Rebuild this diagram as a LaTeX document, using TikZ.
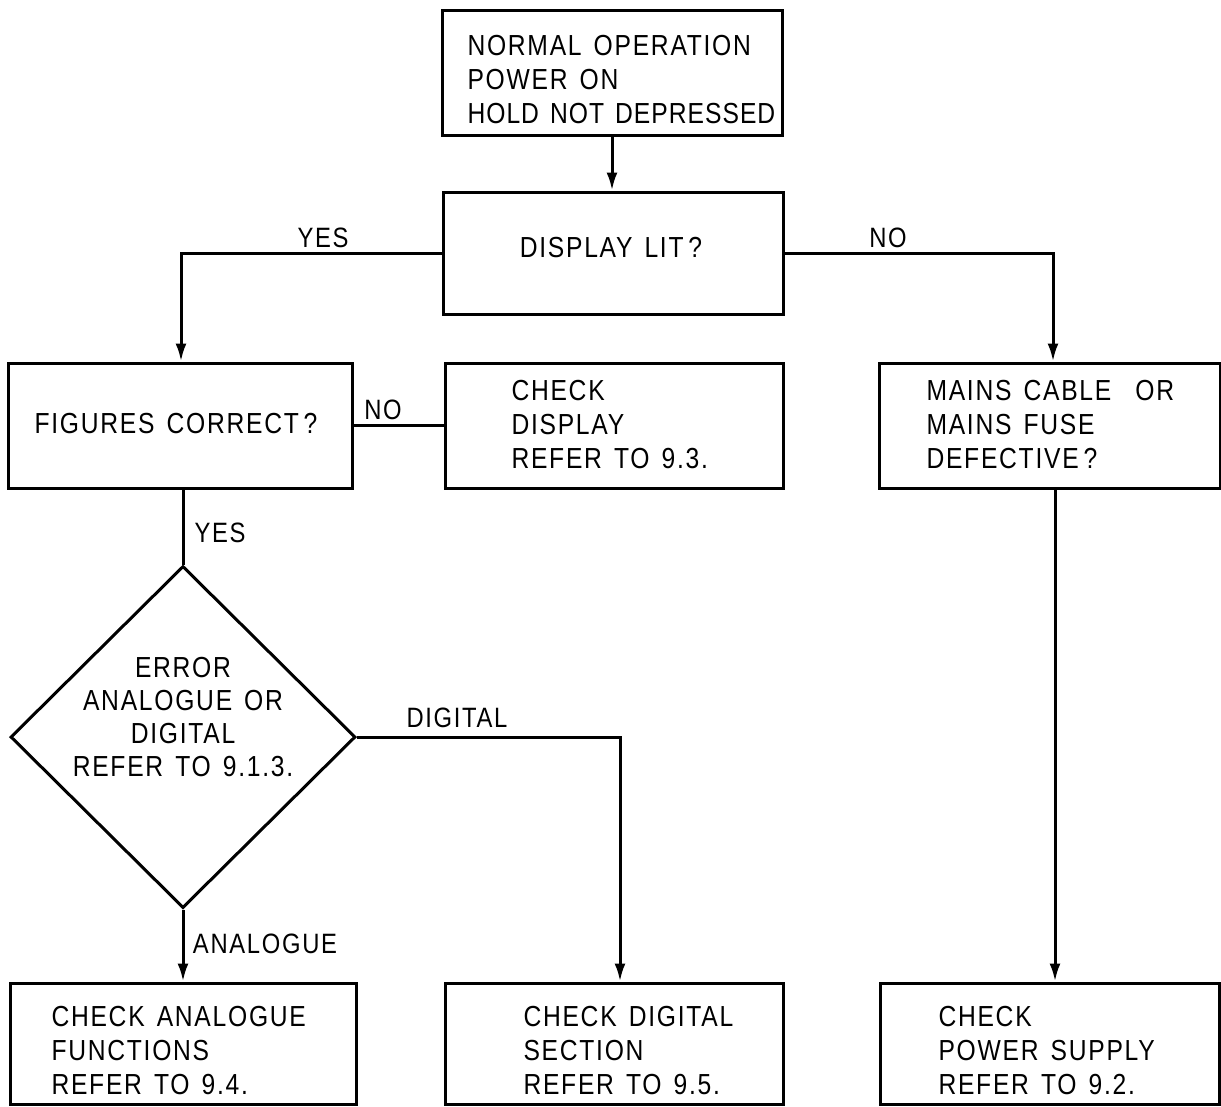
\documentclass[tikz,border=0pt]{standalone}
\usepackage{fontspec}
\setmainfont[LetterSpace=6,FakeStretch=0.85,WordSpace=1.4]{Liberation Sans}
\usetikzlibrary{arrows.meta,shapes.geometric}
\begin{document}
\begin{tikzpicture}[x=1pt,y=-1pt,
  line width=3pt,
  box/.style={draw, rectangle, inner sep=0pt},
  txt/.style={inner sep=0pt, align=left, font=\fontsize{29}{34}\selectfont},
  ctxt/.style={inner sep=0pt, align=center, font=\fontsize{29}{33}\selectfont},
  lbl/.style={inner sep=0pt, font=\fontsize{28}{30}\selectfont},
  flow/.style={-{Latex[length=18pt,width=11pt]}},
]
\useasboundingbox (0,0) rectangle (1221,1106);

% boxes
\node[box, minimum width=340, minimum height=125] (start) at (612,72.5) {};
\node[box, minimum width=340, minimum height=122] (lit) at (613,253) {};
\node[box, minimum width=344, minimum height=125] (fig) at (180,425.5) {};
\node[box, minimum width=338, minimum height=125] (chkdisp) at (614,425.5) {};
\node[box, minimum width=341, minimum height=125] (mains) at (1049.5,425.5) {};
\node[draw, diamond, aspect=1, inner sep=0pt, minimum width=345, minimum height=342] (err) at (183,737) {};
\node[box, minimum width=346, minimum height=121] (ana) at (183,1043.5) {};
\node[box, minimum width=338, minimum height=121] (dig) at (614,1043.5) {};
\node[box, minimum width=339, minimum height=121] (psu) at (1049.5,1043.5) {};

% texts
\node[txt, anchor=west] (tstart) at (466,80) {NORMAL OPERATION\\POWER ON\\{\addfontfeature{LetterSpace=3.5}HOLD NOT DEPRESSED}};
\node[ctxt] (tlit) at (611,248) {DISPLAY LIT\,?};
\node[ctxt] (tfig) at (176,424) {FIGURES CORRECT\,?};
\node[txt, anchor=west] (tchk) at (510,425) {CHECK\\DISPLAY\\REFER TO 9.3.};
\node[txt, anchor=west] (tmains) at (925,425) {MAINS CABLE\ \ OR\\MAINS FUSE\\DEFECTIVE\,?};
\node[ctxt] (terr) at (183,717) {ERROR\\ANALOGUE OR\\DIGITAL\\REFER TO 9.1.3.};
\node[txt, anchor=west] (tana) at (50,1051) {CHECK ANALOGUE\\FUNCTIONS\\REFER TO 9.4.};
\node[txt, anchor=west] (tdig) at (522,1051) {CHECK DIGITAL\\SECTION\\REFER TO 9.5.};
\node[txt, anchor=west] (tpsu) at (937,1051) {CHECK\\POWER SUPPLY\\REFER TO 9.2.};

% connectors
\draw[flow] (start.south) -- (start.south |- lit.north);
\draw[flow] (lit.west) -| (181,0 |- fig.north);
\draw[flow] (lit.east) -| (1053,0 |- mains.north);
\draw (fig.east) -- (fig.east -| chkdisp.west);
\draw (183,0 |- fig.south) -- (err.north);
\draw[flow] (err.east) -| (620,0 |- dig.north);
\draw[flow] (err.south) -- (err.south |- ana.north);
\draw[flow] (1055,0 |- mains.south) -- (1055,0 |- psu.north);

% branch labels
\node[lbl] (lyes1) at (323,238) {YES};
\node[lbl] (lno1) at (888,238) {NO};
\node[lbl] (lno2) at (383,410) {NO};
\node[lbl] (lyes2) at (220,533) {YES};
\node[lbl] (ldig) at (457,718) {DIGITAL};
\node[lbl] (lana) at (265,944) {ANALOGUE};
\end{tikzpicture}
\end{document}
